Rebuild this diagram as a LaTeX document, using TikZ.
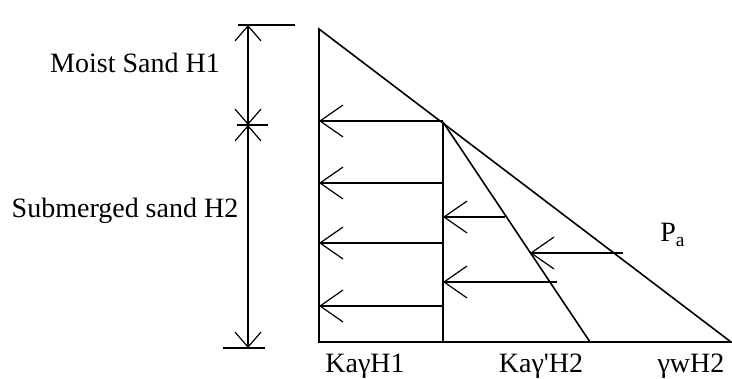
\documentclass[tikz,border=0pt]{standalone}
\usepackage{fontspec}
\setmainfont{Liberation Serif}
\usetikzlibrary{arrows.meta, positioning, calc}

\begin{document}
\begin{tikzpicture}[x=0.5pt, y=-0.5pt, font=\fontsize{14}{16}\selectfont, line width=0.8pt,
  load/.style={-{Straight Barb[length=11.5pt, width=16pt, line width=0.6pt]}},
  dim/.style={{Straight Barb[length=7.5pt, width=13pt, line width=0.6pt]}-{Straight Barb[length=7.5pt, width=13pt, line width=0.6pt]}}]

\useasboundingbox (0,0) rectangle (732,379);

% --- Wall and pressure diagram ---
\coordinate (wallTop) at (319,29);
\coordinate (wallBot) at (319,342);
\coordinate (toeR) at (731,342);
\coordinate (kink) at (443,122);
\coordinate (kinkBot) at (443,342);
\coordinate (midBot) at (590,342);

\draw (wallTop) -- (wallBot) -- (toeR) -- cycle;
\draw (kink) -- (kinkBot);
\draw (kink) -- (midBot);

% Loads from the moist sand
\foreach \y [count=\i] in {121,183,243,306} {
  \coordinate (lA\i) at (443,\y);
  \coordinate (lB\i) at (wallTop |- lA\i);
  \draw[load] (lA\i) -- (lB\i);
}

% Loads from the submerged sand and water
\coordinate (sA1) at (505,217);
\coordinate (sB1) at (443,217);
\coordinate (sA2) at (557,282);
\coordinate (sB2) at (443,282);
\coordinate (wA) at (623,253);
\coordinate (wB) at (530,253);
\draw[load] (sA1) -- (sB1);
\draw[load] (sA2) -- (sB2);
\draw[load] (wA) -- (wB);

% --- Dimension line ---
\coordinate (dTop) at (248,25);
\coordinate (dMid) at (248,125);
\coordinate (dBot) at (248,348);
\draw[dim] (dTop) -- (dMid);
\draw[dim] (dMid) -- (dBot);
\draw ($(dTop)+(-10,0)$) -- ($(dTop)+(47,0)$);
\draw ($(dMid)+(-11,0)$) -- ($(dMid)+(20,0)$);
\draw ($(dBot)+(-25,0)$) -- ($(dBot)+(17,0)$);

% --- Labels ---
\node (moist) at (135,63) {Moist Sand H1};
\node (subm) at (125,211) {Submerged sand H2};
\node (kaH1) at (365,366) {KaγH1};
\node (kaH2) at (541,366) {Kaγ\textquotesingle H2};
\node (gwH2) at (691,366) {γwH2};
\node (pa) at (673,235) {P\textsubscript{a}};

\end{tikzpicture}
\end{document}
